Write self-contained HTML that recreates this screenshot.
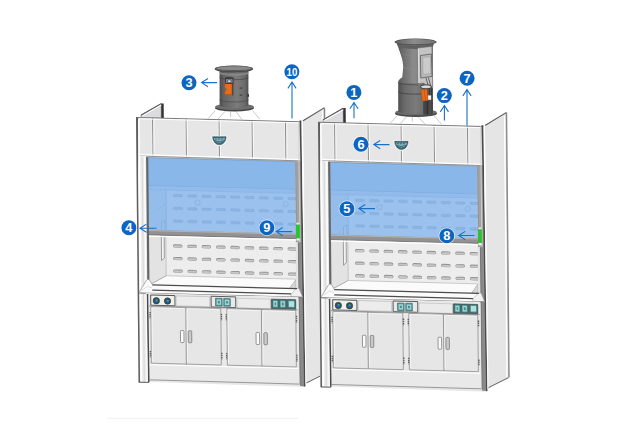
<!DOCTYPE html>
<html lang="en"><head><meta charset="utf-8"><title>Fume hood structure</title>
<style>
html,body{margin:0;padding:0;background:#fff}
body{width:640px;height:425px;overflow:hidden;font-family:"Liberation Sans",sans-serif}
svg{display:block}
svg text{font-family:"Liberation Sans",sans-serif;font-weight:bold;fill:#fff}
</style></head><body>
<svg width="640" height="425" viewBox="0 0 640 425">
<defs>
<linearGradient id="gduct" x1="0" x2="1" y1="0" y2="0">
<stop offset="0" stop-color="#4c4c4c"/><stop offset="0.15" stop-color="#636363"/><stop offset="0.6" stop-color="#7b7b7b"/><stop offset="0.88" stop-color="#6a6a6a"/><stop offset="1" stop-color="#4e4e4e"/>
</linearGradient>
<linearGradient id="gduct2" x1="0" x2="1" y1="0" y2="0">
<stop offset="0" stop-color="#505050"/><stop offset="0.2" stop-color="#6c6c6c"/><stop offset="0.5" stop-color="#7b7b7b"/><stop offset="0.8" stop-color="#6a6a6a"/><stop offset="1" stop-color="#505050"/>
</linearGradient>
<linearGradient id="gduct3" x1="0" x2="1" y1="0" y2="0">
<stop offset="0" stop-color="#555555"/><stop offset="0.2" stop-color="#707070"/><stop offset="0.45" stop-color="#8b8b8b"/><stop offset="1" stop-color="#787878"/>
</linearGradient>
<linearGradient id="gflange" x1="0" x2="1" y1="0" y2="0"><stop offset="0" stop-color="#626262"/><stop offset="0.45" stop-color="#8c8c8c"/><stop offset="1" stop-color="#747474"/></linearGradient>
</defs>
<rect width="640" height="425" fill="#ffffff"/>
<line x1="107" y1="418.3" x2="298" y2="418.3" stroke="#f1f1f1" stroke-width="1"/>

<g>
<line x1="215.3" y1="110.4" x2="208.2" y2="118.6" stroke="#a6a6a6" stroke-width="0.6"/>
<line x1="225.2" y1="111.2" x2="218" y2="119" stroke="#a6a6a6" stroke-width="0.6"/>
<line x1="230.6" y1="111.3" x2="230.6" y2="117" stroke="#a6a6a6" stroke-width="0.6"/>
<line x1="235.6" y1="111.2" x2="242.1" y2="119.7" stroke="#a6a6a6" stroke-width="0.6"/>
<line x1="252.5" y1="110.4" x2="259.8" y2="119.2" stroke="#a6a6a6" stroke-width="0.6"/>
<ellipse cx="234.5" cy="108" rx="19.5" ry="3.5" fill="#454545"/>
<ellipse cx="234.5" cy="106.8" rx="19.3" ry="3.2" fill="#6e6e6e"/>
<path d="M219.6 70.5 L219.6 105 A14.4 3 0 0 0 248.4 105 L248.4 70.5 Z" fill="url(#gduct)"/>
<path d="M219.3 77.5 A14.6 2.4 0 0 0 248.4 77.5" fill="none" stroke="#3f3f3f" stroke-width="0.6"/>
<path d="M219.6 99.8 A14.6 2.6 0 0 0 248.4 99.8" fill="none" stroke="#444" stroke-width="0.6"/>
<path d="M219.6 71.6 A14.4 2.2 0 0 0 248.4 71.6 L248.4 73.4 A14.4 2.2 0 0 1 219.6 73.4 Z" fill="#8f8f8f" fill-opacity="0.8"/>
<ellipse cx="233.9" cy="69" rx="19.3" ry="3.4" fill="#4c4c4c"/>
<ellipse cx="233.9" cy="68.4" rx="18.6" ry="2.7" fill="#6a6a6a"/>
<ellipse cx="233.9" cy="68.6" rx="16.6" ry="2.2" fill="#8a8a8a"/>
<path d="M217.3 68.8 A16.6 2.4 0 0 0 250.5 68.8 A16.6 1.2 0 0 1 217.3 68.8 Z" fill="#5a5a5a"/>
<rect x="224.7" y="83.5" width="7.2" height="11" rx="0.8" fill="#ee6a12" stroke="#9a4a14" stroke-width="0.4"/>
<rect x="224.2" y="88.2" width="2.2" height="2.6" fill="#5a6a7a"/>
<path d="M225.6 78.6 h7.4 v4.8 h-7.4z" fill="#8e8e8e" stroke="#2a2a2a" stroke-width="0.8"/>
<path d="M227.6 80 h3.4 v2.4 h-3.4z" fill="#e0e0e0" stroke="#222" stroke-width="0.5"/>
<path d="M225 78.2 q4.4 -2 8.6 0" fill="none" stroke="#222" stroke-width="0.7"/>
<line x1="232.8" y1="83.5" x2="232.8" y2="95.5" stroke="#2d2d2d" stroke-width="0.8"/>
<rect x="239.6" y="87.6" width="2.6" height="0.9" fill="#2f2f2f"/>
<rect x="239.6" y="94.6" width="2.6" height="0.9" fill="#2f2f2f"/>
<rect x="247.2" y="94.2" width="1.8" height="2.6" fill="#3a3a3a"/>
</g>
<g>
<line x1="397" y1="116" x2="390.4" y2="123" stroke="#a6a6a6" stroke-width="0.6"/>
<line x1="406.8" y1="116.4" x2="400.2" y2="123.6" stroke="#a6a6a6" stroke-width="0.6"/>
<line x1="412.3" y1="116.5" x2="412.3" y2="121.6" stroke="#a6a6a6" stroke-width="0.6"/>
<line x1="417.7" y1="116.4" x2="424.9" y2="124.1" stroke="#a6a6a6" stroke-width="0.6"/>
<line x1="434.2" y1="115.6" x2="441.5" y2="124.3" stroke="#a6a6a6" stroke-width="0.6"/>
<ellipse cx="416" cy="113.4" rx="21" ry="3.6" fill="#474747"/>
<ellipse cx="416" cy="112.2" rx="20.6" ry="3.1" fill="#6c6c6c"/>
<path d="M398.2 82.5 L398.2 111.2 A17.4 2.6 0 0 0 433 111.2 L433 82.5 Z" fill="url(#gduct2)"/>
<path d="M397 43.5 C399.5 52 403.2 59 403.2 67 L402.3 77 C400.5 79 398.2 79.5 398.2 83 L433 83 L433 43.5 Z" fill="url(#gduct3)"/>
<path d="M398.2 82.4 A17.4 2.4 0 0 0 418 84.8" fill="none" stroke="#3d3d3d" stroke-width="0.6"/>
<path d="M398.2 91.6 A17.4 2.4 0 0 0 421 94" fill="none" stroke="#3d3d3d" stroke-width="0.7"/>
<path d="M403.2 67 A15 2.2 0 0 0 418 69.2" fill="none" stroke="#8f8f8f" stroke-width="0.5"/><path d="M400.2 53 A16 2.2 0 0 0 418 55.4" fill="none" stroke="#8a8a8a" stroke-width="0.4"/>
<path d="M396.6 43 A19 3.4 0 0 0 434.2 43 L433 46.4 A17.6 3 0 0 1 398 46.4 Z" fill="#606060"/>
<ellipse cx="415.6" cy="42" rx="21" ry="3.5" fill="#4a4a4a"/>
<ellipse cx="415.6" cy="41.9" rx="20" ry="2.8" fill="url(#gflange)"/>
<path d="M396.4 42.8 A19.4 2.9 0 0 0 434.8 42.8 A19.4 1.7 0 0 1 396.4 42.8 Z" fill="#585858"/>
<path d="M417.8 48 L431.8 46.4 L432.8 88 L425 88.6 L424.2 83 L418.2 83.6 Z" fill="#c4c4c4" stroke="#6a6a6a" stroke-width="0.5"/>
<path d="M418.4 48.6 L418.8 83" fill="none" stroke="#f2f2f2" stroke-width="0.7"/>
<path d="M420.4 55.5 L431.4 54 L432 76.4 L420.8 78 Z" fill="#b9b9b9" stroke="#4a4a4a" stroke-width="0.7"/>
<path d="M422.8 57.6 L430.4 56.6 L430.8 73.4 L423.1 74.4 Z" fill="#cbcbcb" stroke="#8a8a8a" stroke-width="0.4"/>
<path d="M426 78 L429.4 90 M428.4 77.6 L431.6 89" fill="none" stroke="#3a3a3a" stroke-width="0.7"/>
<rect x="427.6" y="88.6" width="5.2" height="12" fill="#555555"/>
<path d="M429.4 88.6 V100.4 M431.4 88.6 V100.4" stroke="#2a2a2a" stroke-width="0.7"/>
<rect x="427.6" y="95.4" width="3.6" height="4.4" fill="#f4f4f4"/>
<ellipse cx="426" cy="86.8" rx="5.6" ry="2" fill="#d8d8d8" stroke="#2e2e2e" stroke-width="0.9"/>
<path d="M421 89.8 L427 89.2 L428 100.2 L422.4 101.2 Z" fill="#ee6a12" stroke="#9a4a14" stroke-width="0.4"/>
<path d="M424.4 89.8 L425.4 100.6" stroke="#b04c10" stroke-width="0.6"/>
<path d="M423.2 101.2 L432.8 100.4 L432.8 114.6 L423.2 114.8 Z" fill="#444444"/>
<line x1="427.4" y1="101" x2="427.4" y2="114.6" stroke="#222" stroke-width="0.7"/>
<line x1="430.2" y1="101" x2="430.2" y2="114.6" stroke="#5a5a5a" stroke-width="0.6"/>
</g>
<g transform="translate(-1.12,0) skewX(0.544)">
<polygon points="141,115.2 161.3,103.6 161.3,118.2 141,117.7" fill="#dcdcde" stroke="#8a8a8a" stroke-width="0.7" stroke-linejoin="round"/>
<polygon points="161.3,103.4 163.8,103.4 163.8,118.3 161.3,118.2" fill="#333333"/>
<line x1="142.4" y1="115.8" x2="161.3" y2="105" stroke="#ffffff" stroke-width="1"/>
<line x1="141" y1="115.2" x2="161.3" y2="103.6" stroke="#555555" stroke-width="1"/>
<polygon points="303,120.8 324.2,107.9 324.2,372.9 302.5,383.4" fill="#e5e5e6" stroke="#9a9a9a" stroke-width="0.7" stroke-linejoin="round"/>
<polygon points="324,107.8 325.3,107.8 325.3,372.3 324,372.9" fill="#8a8a8a"/>
<line x1="322.6" y1="111" x2="322.6" y2="372.5" stroke="#ffffff" stroke-width="1.3"/>
<line x1="303" y1="120.8" x2="324.2" y2="107.9" stroke="#5e5e5e" stroke-width="1"/>
<line x1="303.6" y1="383.2" x2="324.2" y2="372.9" stroke="#6a6a6a" stroke-width="0.9"/>
<polygon points="136,117.5 302.5,121.8 302.5,387 136,381.5" fill="#e7e7e8"/>
<g transform="translate(-1.3,0)">
<polygon points="148,157.31 295.5,161.15 295.5,240.15 148,236.31" fill="#eeeeee"/>
<polygon points="166,186.78 295.5,190.15 295.5,279.15 166,275.78" fill="#ededee"/>
<rect x="173.1" y="193.99" width="9.4" height="3" rx="1.5" fill="#cfcfcf" stroke="#bdbdbd" stroke-width="0.4" transform="rotate(1.5 177.8 195.49)"/>
<rect x="187.43" y="194.36" width="9.4" height="3" rx="1.5" fill="#cfcfcf" stroke="#bdbdbd" stroke-width="0.4" transform="rotate(1.5 192.13 195.86)"/>
<rect x="201.76" y="194.73" width="9.4" height="3" rx="1.5" fill="#cfcfcf" stroke="#bdbdbd" stroke-width="0.4" transform="rotate(1.5 206.46 196.23)"/>
<rect x="216.09" y="195.1" width="9.4" height="3" rx="1.5" fill="#cfcfcf" stroke="#bdbdbd" stroke-width="0.4" transform="rotate(1.5 220.79 196.6)"/>
<rect x="230.42" y="195.48" width="9.4" height="3" rx="1.5" fill="#cfcfcf" stroke="#bdbdbd" stroke-width="0.4" transform="rotate(1.5 235.12 196.98)"/>
<rect x="244.75" y="195.85" width="9.4" height="3" rx="1.5" fill="#cfcfcf" stroke="#bdbdbd" stroke-width="0.4" transform="rotate(1.5 249.45 197.35)"/>
<rect x="259.08" y="196.22" width="9.4" height="3" rx="1.5" fill="#cfcfcf" stroke="#bdbdbd" stroke-width="0.4" transform="rotate(1.5 263.78 197.72)"/>
<rect x="273.41" y="196.59" width="9.4" height="3" rx="1.5" fill="#cfcfcf" stroke="#bdbdbd" stroke-width="0.4" transform="rotate(1.5 278.11 198.09)"/>
<rect x="287.74" y="196.97" width="9.4" height="3" rx="1.5" fill="#cfcfcf" stroke="#bdbdbd" stroke-width="0.4" transform="rotate(1.5 292.44 198.47)"/>
<rect x="173.1" y="206.79" width="9.4" height="3" rx="1.5" fill="#cfcfcf" stroke="#bdbdbd" stroke-width="0.4" transform="rotate(1.5 177.8 208.29)"/>
<rect x="187.43" y="207.16" width="9.4" height="3" rx="1.5" fill="#cfcfcf" stroke="#bdbdbd" stroke-width="0.4" transform="rotate(1.5 192.13 208.66)"/>
<rect x="201.76" y="207.53" width="9.4" height="3" rx="1.5" fill="#cfcfcf" stroke="#bdbdbd" stroke-width="0.4" transform="rotate(1.5 206.46 209.03)"/>
<rect x="216.09" y="207.9" width="9.4" height="3" rx="1.5" fill="#cfcfcf" stroke="#bdbdbd" stroke-width="0.4" transform="rotate(1.5 220.79 209.4)"/>
<rect x="230.42" y="208.28" width="9.4" height="3" rx="1.5" fill="#cfcfcf" stroke="#bdbdbd" stroke-width="0.4" transform="rotate(1.5 235.12 209.78)"/>
<rect x="244.75" y="208.65" width="9.4" height="3" rx="1.5" fill="#cfcfcf" stroke="#bdbdbd" stroke-width="0.4" transform="rotate(1.5 249.45 210.15)"/>
<rect x="259.08" y="209.02" width="9.4" height="3" rx="1.5" fill="#cfcfcf" stroke="#bdbdbd" stroke-width="0.4" transform="rotate(1.5 263.78 210.52)"/>
<rect x="273.41" y="209.39" width="9.4" height="3" rx="1.5" fill="#cfcfcf" stroke="#bdbdbd" stroke-width="0.4" transform="rotate(1.5 278.11 210.89)"/>
<rect x="287.74" y="209.77" width="9.4" height="3" rx="1.5" fill="#cfcfcf" stroke="#bdbdbd" stroke-width="0.4" transform="rotate(1.5 292.44 211.27)"/>
<rect x="173.1" y="219.49" width="9.4" height="3" rx="1.5" fill="#cfcfcf" stroke="#bdbdbd" stroke-width="0.4" transform="rotate(1.5 177.8 220.99)"/>
<rect x="187.43" y="219.86" width="9.4" height="3" rx="1.5" fill="#cfcfcf" stroke="#bdbdbd" stroke-width="0.4" transform="rotate(1.5 192.13 221.36)"/>
<rect x="201.76" y="220.23" width="9.4" height="3" rx="1.5" fill="#cfcfcf" stroke="#bdbdbd" stroke-width="0.4" transform="rotate(1.5 206.46 221.73)"/>
<rect x="216.09" y="220.6" width="9.4" height="3" rx="1.5" fill="#cfcfcf" stroke="#bdbdbd" stroke-width="0.4" transform="rotate(1.5 220.79 222.1)"/>
<rect x="230.42" y="220.98" width="9.4" height="3" rx="1.5" fill="#cfcfcf" stroke="#bdbdbd" stroke-width="0.4" transform="rotate(1.5 235.12 222.48)"/>
<rect x="244.75" y="221.35" width="9.4" height="3" rx="1.5" fill="#cfcfcf" stroke="#bdbdbd" stroke-width="0.4" transform="rotate(1.5 249.45 222.85)"/>
<rect x="259.08" y="221.72" width="9.4" height="3" rx="1.5" fill="#cfcfcf" stroke="#bdbdbd" stroke-width="0.4" transform="rotate(1.5 263.78 223.22)"/>
<rect x="273.41" y="222.09" width="9.4" height="3" rx="1.5" fill="#cfcfcf" stroke="#bdbdbd" stroke-width="0.4" transform="rotate(1.5 278.11 223.59)"/>
<rect x="287.74" y="222.47" width="9.4" height="3" rx="1.5" fill="#cfcfcf" stroke="#bdbdbd" stroke-width="0.4" transform="rotate(1.5 292.44 223.97)"/>
<g transform="rotate(1.5 177.8 245.99)"><rect x="173" y="244.39" width="9.6" height="3.2" rx="1.6" fill="#8f8f8f"/><rect x="173.5" y="245.29" width="8.6" height="2" rx="1" fill="#c6c6c6"/></g>
<g transform="rotate(1.5 192.13 246.36)"><rect x="187.33" y="244.76" width="9.6" height="3.2" rx="1.6" fill="#8f8f8f"/><rect x="187.83" y="245.66" width="8.6" height="2" rx="1" fill="#c6c6c6"/></g>
<g transform="rotate(1.5 206.46 246.73)"><rect x="201.66" y="245.13" width="9.6" height="3.2" rx="1.6" fill="#8f8f8f"/><rect x="202.16" y="246.03" width="8.6" height="2" rx="1" fill="#c6c6c6"/></g>
<g transform="rotate(1.5 220.79 247.1)"><rect x="215.99" y="245.5" width="9.6" height="3.2" rx="1.6" fill="#8f8f8f"/><rect x="216.49" y="246.4" width="8.6" height="2" rx="1" fill="#c6c6c6"/></g>
<g transform="rotate(1.5 235.12 247.48)"><rect x="230.32" y="245.88" width="9.6" height="3.2" rx="1.6" fill="#8f8f8f"/><rect x="230.82" y="246.78" width="8.6" height="2" rx="1" fill="#c6c6c6"/></g>
<g transform="rotate(1.5 249.45 247.85)"><rect x="244.65" y="246.25" width="9.6" height="3.2" rx="1.6" fill="#8f8f8f"/><rect x="245.15" y="247.15" width="8.6" height="2" rx="1" fill="#c6c6c6"/></g>
<g transform="rotate(1.5 263.78 248.22)"><rect x="258.98" y="246.62" width="9.6" height="3.2" rx="1.6" fill="#8f8f8f"/><rect x="259.48" y="247.52" width="8.6" height="2" rx="1" fill="#c6c6c6"/></g>
<g transform="rotate(1.5 278.11 248.59)"><rect x="273.31" y="246.99" width="9.6" height="3.2" rx="1.6" fill="#8f8f8f"/><rect x="273.81" y="247.89" width="8.6" height="2" rx="1" fill="#c6c6c6"/></g>
<g transform="rotate(1.5 292.44 248.97)"><rect x="287.64" y="247.37" width="9.6" height="3.2" rx="1.6" fill="#8f8f8f"/><rect x="288.14" y="248.27" width="8.6" height="2" rx="1" fill="#c6c6c6"/></g>
<g transform="rotate(1.5 177.8 258.59)"><rect x="173" y="256.99" width="9.6" height="3.2" rx="1.6" fill="#8f8f8f"/><rect x="173.5" y="257.89" width="8.6" height="2" rx="1" fill="#c6c6c6"/></g>
<g transform="rotate(1.5 192.13 258.96)"><rect x="187.33" y="257.36" width="9.6" height="3.2" rx="1.6" fill="#8f8f8f"/><rect x="187.83" y="258.26" width="8.6" height="2" rx="1" fill="#c6c6c6"/></g>
<g transform="rotate(1.5 206.46 259.33)"><rect x="201.66" y="257.73" width="9.6" height="3.2" rx="1.6" fill="#8f8f8f"/><rect x="202.16" y="258.63" width="8.6" height="2" rx="1" fill="#c6c6c6"/></g>
<g transform="rotate(1.5 220.79 259.7)"><rect x="215.99" y="258.1" width="9.6" height="3.2" rx="1.6" fill="#8f8f8f"/><rect x="216.49" y="259" width="8.6" height="2" rx="1" fill="#c6c6c6"/></g>
<g transform="rotate(1.5 235.12 260.08)"><rect x="230.32" y="258.48" width="9.6" height="3.2" rx="1.6" fill="#8f8f8f"/><rect x="230.82" y="259.38" width="8.6" height="2" rx="1" fill="#c6c6c6"/></g>
<g transform="rotate(1.5 249.45 260.45)"><rect x="244.65" y="258.85" width="9.6" height="3.2" rx="1.6" fill="#8f8f8f"/><rect x="245.15" y="259.75" width="8.6" height="2" rx="1" fill="#c6c6c6"/></g>
<g transform="rotate(1.5 263.78 260.82)"><rect x="258.98" y="259.22" width="9.6" height="3.2" rx="1.6" fill="#8f8f8f"/><rect x="259.48" y="260.12" width="8.6" height="2" rx="1" fill="#c6c6c6"/></g>
<g transform="rotate(1.5 278.11 261.19)"><rect x="273.31" y="259.59" width="9.6" height="3.2" rx="1.6" fill="#8f8f8f"/><rect x="273.81" y="260.49" width="8.6" height="2" rx="1" fill="#c6c6c6"/></g>
<g transform="rotate(1.5 292.44 261.57)"><rect x="287.64" y="259.97" width="9.6" height="3.2" rx="1.6" fill="#8f8f8f"/><rect x="288.14" y="260.87" width="8.6" height="2" rx="1" fill="#c6c6c6"/></g>
<g transform="rotate(1.5 177.8 271.09)"><rect x="173" y="269.49" width="9.6" height="3.2" rx="1.6" fill="#8f8f8f"/><rect x="173.5" y="270.39" width="8.6" height="2" rx="1" fill="#c6c6c6"/></g>
<g transform="rotate(1.5 192.13 271.46)"><rect x="187.33" y="269.86" width="9.6" height="3.2" rx="1.6" fill="#8f8f8f"/><rect x="187.83" y="270.76" width="8.6" height="2" rx="1" fill="#c6c6c6"/></g>
<g transform="rotate(1.5 206.46 271.83)"><rect x="201.66" y="270.23" width="9.6" height="3.2" rx="1.6" fill="#8f8f8f"/><rect x="202.16" y="271.13" width="8.6" height="2" rx="1" fill="#c6c6c6"/></g>
<g transform="rotate(1.5 220.79 272.2)"><rect x="215.99" y="270.6" width="9.6" height="3.2" rx="1.6" fill="#8f8f8f"/><rect x="216.49" y="271.5" width="8.6" height="2" rx="1" fill="#c6c6c6"/></g>
<g transform="rotate(1.5 235.12 272.58)"><rect x="230.32" y="270.98" width="9.6" height="3.2" rx="1.6" fill="#8f8f8f"/><rect x="230.82" y="271.88" width="8.6" height="2" rx="1" fill="#c6c6c6"/></g>
<g transform="rotate(1.5 249.45 272.95)"><rect x="244.65" y="271.35" width="9.6" height="3.2" rx="1.6" fill="#8f8f8f"/><rect x="245.15" y="272.25" width="8.6" height="2" rx="1" fill="#c6c6c6"/></g>
<g transform="rotate(1.5 263.78 273.32)"><rect x="258.98" y="271.72" width="9.6" height="3.2" rx="1.6" fill="#8f8f8f"/><rect x="259.48" y="272.62" width="8.6" height="2" rx="1" fill="#c6c6c6"/></g>
<g transform="rotate(1.5 278.11 273.69)"><rect x="273.31" y="272.09" width="9.6" height="3.2" rx="1.6" fill="#8f8f8f"/><rect x="273.81" y="272.99" width="8.6" height="2" rx="1" fill="#c6c6c6"/></g>
<g transform="rotate(1.5 292.44 274.07)"><rect x="287.64" y="272.47" width="9.6" height="3.2" rx="1.6" fill="#8f8f8f"/><rect x="288.14" y="273.37" width="8.6" height="2" rx="1" fill="#c6c6c6"/></g>
<circle cx="197.5" cy="202.5" r="2.6" fill="none" stroke="#b0b0b0" stroke-width="0.6"/>
<circle cx="285" cy="206" r="2.6" fill="none" stroke="#b0b0b0" stroke-width="0.6"/>
<polygon points="152,182.92 295.5,186.65 295.5,192.65 152,188.92" fill="#d9d9db"/>
<polygon points="152,186.62 295.5,190.35 295.5,191.35 152,187.62" fill="#f8f8f8"/>
<polygon points="148,159 166,186 166,275.78 148,285.5" fill="#e3e3e4"/>
<line x1="166" y1="186" x2="166" y2="275.78" stroke="#b5b5b5" stroke-width="0.7"/>
<polygon points="161.5,221 164.3,220.5 164.3,258 161.5,260.5" fill="#f4f4f4" stroke="#7a7a7a" stroke-width="0.7" stroke-linejoin="round"/>
<polygon points="166,275.78 295.5,279.15 295.5,288.65 148,285.11" fill="#fbfbfb"/>
<line x1="166" y1="275.78" x2="295.5" y2="279.15" stroke="#b8b8b8" stroke-width="0.7"/>
<line x1="166" y1="275.78" x2="148" y2="285.5" stroke="#9a9a9a" stroke-width="0.8"/>
<polygon points="295.5,279.65 289,288.58 295.5,288.75" fill="#d5d5d5" stroke="#9a9a9a" stroke-width="0.5" stroke-linejoin="round"/>
</g>
<g transform="translate(-0.7,0)">
<polygon points="148,157.61 295.5,161.45 295.5,190.35 148,186.51" fill="#8ab7e9"/>
<polygon points="148,185.71 295.5,189.55 295.5,234.35 148,230.51" fill="#9bc2ee"/>
<polygon points="148,185.71 166,186.18 166,230.98 148,230.51" fill="#94bdeb"/>
<polygon points="148,184.91 295.5,188.75 295.5,189.75 148,185.91" fill="#7fafe4"/>
<polygon points="148,185.91 295.5,189.75 295.5,193.35 148,189.51" fill="#92bbeb"/>
<line x1="148" y1="189.61" x2="295.5" y2="193.45" stroke="#84b0e0" stroke-width="0.6"/>
<line x1="166" y1="189.18" x2="166" y2="230.78" stroke="#82aede" stroke-width="0.7"/>
<line x1="148.4" y1="214.6" x2="166" y2="204" stroke="#86b1e0" stroke-width="0.5"/>
<polygon points="161.2,222 164.6,220.4 164.6,231 161.2,231" fill="#98c0ed" stroke="#7aa4d4" stroke-width="0.6" stroke-linejoin="round"/>
<rect x="173.1" y="194.49" width="9.4" height="2.3" rx="1.15" fill="#8cb5e4" stroke="#7aa5d6" stroke-width="0.4" transform="rotate(1.5 177.8 195.79)"/>
<rect x="187.43" y="194.86" width="9.4" height="2.3" rx="1.15" fill="#8cb5e4" stroke="#7aa5d6" stroke-width="0.4" transform="rotate(1.5 192.13 196.16)"/>
<rect x="201.76" y="195.23" width="9.4" height="2.3" rx="1.15" fill="#8cb5e4" stroke="#7aa5d6" stroke-width="0.4" transform="rotate(1.5 206.46 196.53)"/>
<rect x="216.09" y="195.6" width="9.4" height="2.3" rx="1.15" fill="#8cb5e4" stroke="#7aa5d6" stroke-width="0.4" transform="rotate(1.5 220.79 196.9)"/>
<rect x="230.42" y="195.98" width="9.4" height="2.3" rx="1.15" fill="#8cb5e4" stroke="#7aa5d6" stroke-width="0.4" transform="rotate(1.5 235.12 197.28)"/>
<rect x="244.75" y="196.35" width="9.4" height="2.3" rx="1.15" fill="#8cb5e4" stroke="#7aa5d6" stroke-width="0.4" transform="rotate(1.5 249.45 197.65)"/>
<rect x="259.08" y="196.72" width="9.4" height="2.3" rx="1.15" fill="#8cb5e4" stroke="#7aa5d6" stroke-width="0.4" transform="rotate(1.5 263.78 198.02)"/>
<rect x="273.41" y="197.09" width="9.4" height="2.3" rx="1.15" fill="#8cb5e4" stroke="#7aa5d6" stroke-width="0.4" transform="rotate(1.5 278.11 198.39)"/>
<rect x="287.74" y="197.47" width="9.4" height="2.3" rx="1.15" fill="#8cb5e4" stroke="#7aa5d6" stroke-width="0.4" transform="rotate(1.5 292.44 198.77)"/>
<rect x="173.1" y="207.39" width="9.4" height="2.3" rx="1.15" fill="#8cb5e4" stroke="#7aa5d6" stroke-width="0.4" transform="rotate(1.5 177.8 208.69)"/>
<rect x="187.43" y="207.76" width="9.4" height="2.3" rx="1.15" fill="#8cb5e4" stroke="#7aa5d6" stroke-width="0.4" transform="rotate(1.5 192.13 209.06)"/>
<rect x="201.76" y="208.13" width="9.4" height="2.3" rx="1.15" fill="#8cb5e4" stroke="#7aa5d6" stroke-width="0.4" transform="rotate(1.5 206.46 209.43)"/>
<rect x="216.09" y="208.5" width="9.4" height="2.3" rx="1.15" fill="#8cb5e4" stroke="#7aa5d6" stroke-width="0.4" transform="rotate(1.5 220.79 209.8)"/>
<rect x="230.42" y="208.88" width="9.4" height="2.3" rx="1.15" fill="#8cb5e4" stroke="#7aa5d6" stroke-width="0.4" transform="rotate(1.5 235.12 210.18)"/>
<rect x="244.75" y="209.25" width="9.4" height="2.3" rx="1.15" fill="#8cb5e4" stroke="#7aa5d6" stroke-width="0.4" transform="rotate(1.5 249.45 210.55)"/>
<rect x="259.08" y="209.62" width="9.4" height="2.3" rx="1.15" fill="#8cb5e4" stroke="#7aa5d6" stroke-width="0.4" transform="rotate(1.5 263.78 210.92)"/>
<rect x="273.41" y="209.99" width="9.4" height="2.3" rx="1.15" fill="#8cb5e4" stroke="#7aa5d6" stroke-width="0.4" transform="rotate(1.5 278.11 211.29)"/>
<rect x="287.74" y="210.37" width="9.4" height="2.3" rx="1.15" fill="#8cb5e4" stroke="#7aa5d6" stroke-width="0.4" transform="rotate(1.5 292.44 211.67)"/>
<rect x="173.1" y="220.09" width="9.4" height="2.3" rx="1.15" fill="#8cb5e4" stroke="#7aa5d6" stroke-width="0.4" transform="rotate(1.5 177.8 221.39)"/>
<rect x="187.43" y="220.46" width="9.4" height="2.3" rx="1.15" fill="#8cb5e4" stroke="#7aa5d6" stroke-width="0.4" transform="rotate(1.5 192.13 221.76)"/>
<rect x="201.76" y="220.83" width="9.4" height="2.3" rx="1.15" fill="#8cb5e4" stroke="#7aa5d6" stroke-width="0.4" transform="rotate(1.5 206.46 222.13)"/>
<rect x="216.09" y="221.2" width="9.4" height="2.3" rx="1.15" fill="#8cb5e4" stroke="#7aa5d6" stroke-width="0.4" transform="rotate(1.5 220.79 222.5)"/>
<rect x="230.42" y="221.58" width="9.4" height="2.3" rx="1.15" fill="#8cb5e4" stroke="#7aa5d6" stroke-width="0.4" transform="rotate(1.5 235.12 222.88)"/>
<rect x="244.75" y="221.95" width="9.4" height="2.3" rx="1.15" fill="#8cb5e4" stroke="#7aa5d6" stroke-width="0.4" transform="rotate(1.5 249.45 223.25)"/>
<rect x="259.08" y="222.32" width="9.4" height="2.3" rx="1.15" fill="#8cb5e4" stroke="#7aa5d6" stroke-width="0.4" transform="rotate(1.5 263.78 223.62)"/>
<rect x="273.41" y="222.69" width="9.4" height="2.3" rx="1.15" fill="#8cb5e4" stroke="#7aa5d6" stroke-width="0.4" transform="rotate(1.5 278.11 223.99)"/>
<rect x="287.74" y="223.07" width="9.4" height="2.3" rx="1.15" fill="#8cb5e4" stroke="#7aa5d6" stroke-width="0.4" transform="rotate(1.5 292.44 224.37)"/>
<circle cx="197.5" cy="202.5" r="2.6" fill="none" stroke="#7fa9d9" stroke-width="0.6"/>
<circle cx="285.6" cy="204.2" r="2.6" fill="none" stroke="#7fa9d9" stroke-width="0.6"/>
<line x1="148" y1="157.61" x2="295.5" y2="161.45" stroke="#6f8fb0" stroke-width="0.7"/>
</g>
<g transform="translate(-1.1,0)">
<polygon points="146,229.86 296,233.76 296,238.56 146,234.66" fill="#929292"/>
<line x1="146" y1="230.46" x2="296" y2="234.36" stroke="#b4b4b4" stroke-width="1"/>
<line x1="146" y1="234.76" x2="296" y2="238.66" stroke="#666666" stroke-width="0.8"/>
<line x1="147" y1="236.09" x2="296" y2="239.96" stroke="#ffffff" stroke-width="1.2"/>
</g>
<polygon points="136,117.5 302.5,121.83 302.5,161 136,155.9" fill="#e6e6e7"/>
<line x1="152.6" y1="117.93" x2="152.6" y2="156.41" stroke="#838383" stroke-width="1"/>
<line x1="151.5" y1="118.93" x2="151.5" y2="155.61" stroke="#f0f0f0" stroke-width="0.7"/>
<line x1="153.8" y1="118.93" x2="153.8" y2="155.61" stroke="#fbfbfb" stroke-width="0.9"/>
<line x1="186" y1="118.8" x2="186" y2="157.44" stroke="#838383" stroke-width="1"/>
<line x1="184.9" y1="119.8" x2="184.9" y2="156.63" stroke="#f0f0f0" stroke-width="0.7"/>
<line x1="187.2" y1="119.8" x2="187.2" y2="156.63" stroke="#fbfbfb" stroke-width="0.9"/>
<line x1="219" y1="119.66" x2="219" y2="158.45" stroke="#838383" stroke-width="1"/>
<line x1="217.9" y1="120.66" x2="217.9" y2="157.65" stroke="#f0f0f0" stroke-width="0.7"/>
<line x1="220.2" y1="120.66" x2="220.2" y2="157.65" stroke="#fbfbfb" stroke-width="0.9"/>
<line x1="252" y1="120.52" x2="252" y2="159.46" stroke="#838383" stroke-width="1"/>
<line x1="250.9" y1="121.52" x2="250.9" y2="158.66" stroke="#f0f0f0" stroke-width="0.7"/>
<line x1="253.2" y1="121.52" x2="253.2" y2="158.66" stroke="#fbfbfb" stroke-width="0.9"/>
<line x1="285.5" y1="121.39" x2="285.5" y2="160.49" stroke="#838383" stroke-width="1"/>
<line x1="284.4" y1="122.39" x2="284.4" y2="159.69" stroke="#f0f0f0" stroke-width="0.7"/>
<line x1="286.7" y1="122.39" x2="286.7" y2="159.69" stroke="#fbfbfb" stroke-width="0.9"/>
<line x1="136" y1="117.5" x2="302.5" y2="121.83" stroke="#6e6e6e" stroke-width="0.9"/>
<line x1="138" y1="118.75" x2="300" y2="122.96" stroke="#ffffff" stroke-width="1"/>
<line x1="138" y1="154.7" x2="300" y2="159.6" stroke="#ffffff" stroke-width="1.3"/>
<line x1="138" y1="156" x2="300" y2="160.9" stroke="#8a8a8a" stroke-width="0.9"/>
<path d="M212 136.56 h14.4 a7.2 8.6 0 0 1 -14.4 0z" fill="#ffffff" stroke="#ffffff" stroke-width="1.6"/>
<path d="M212.4 136.66 h13.6 a6.8 8.2 0 0 1 -13.6 0z" fill="#3f6b78" stroke="#2b4750" stroke-width="0.5"/>
<path d="M213.7 137.96 h11 a5.5 4.8 0 0 1 -11 0z" fill="#7fb0bd"/>
<path d="M214.7 138.96 h9" fill="none" stroke="#2f5560" stroke-width="0.8" stroke-dasharray="2 1"/>
<path d="M214.7 140.76 q4.5 2.2 9 0" fill="none" stroke="#335a66" stroke-width="0.8"/>
<polygon points="136,155.8 146,156 146,382.6 136,382.4" fill="#ededee"/>
<polygon points="136,117.5 138.3,117.5 138,150 137.5,175 137.5,382.6 136,382.2" fill="#5e5e5e"/>
<line x1="138.8" y1="119" x2="138.8" y2="382" stroke="#ffffff" stroke-width="1.6"/>
<line x1="141.8" y1="157" x2="141.8" y2="382" stroke="#d2d2d2" stroke-width="0.8"/>
<line x1="144.2" y1="157" x2="144.2" y2="281" stroke="#ffffff" stroke-width="1.2"/>
<polygon points="145.7,157 147.9,157.2 147.9,280 145.7,280.4" fill="#666666"/>
<polygon points="136,381.6 146.6,382 146.6,383 136.4,382.8" fill="#6a6a6a"/>
<polygon points="294.8,161.15 301.3,161.33 301.4,386.4 297.6,385.9 297.4,290 297,242.5 295.2,242.5" fill="#a3a2a1"/>
<line x1="295.3" y1="161.66" x2="295.3" y2="242" stroke="#8d8d8d" stroke-width="0.8"/>
<polygon points="294.6,242.6 297,242.6 297.4,290 294.6,290" fill="#e4e4e4"/>
<polygon points="297,242.6 300,242.6 301,386 297.6,385.9" fill="#8a8a8a"/>
<line x1="297.2" y1="243" x2="297.6" y2="385" stroke="#6e6e6e" stroke-width="0.8"/>
<line x1="298.6" y1="121.5" x2="298.7" y2="242" stroke="#cfcfcf" stroke-width="0.9"/>
<polygon points="299.5,120.5 301.6,120.5 301.5,157 302.9,386.6 301.3,386.4 299.9,157" fill="#4a4a4a"/>
<polygon points="301.4,120.6 303.4,120.9 303.9,383.4 302.9,384.5" fill="#ffffff"/>
<rect x="295.2" y="224.6" width="3.4" height="13.6" fill="#0cd80c" stroke="#6e8f6e" stroke-width="0.5"/>
<rect x="295.3" y="222.8" width="3.2" height="1.8" fill="#e8e8e8"/>
<rect x="295.3" y="238.4" width="3.2" height="2.2" fill="#f2f2f2"/>
<g transform="translate(-1.6,0)">
<polygon points="138.9,292.6 146.6,279.8 149.6,279.8 152.4,284.3 297,288.49 302.6,297.32 138.9,292.9" fill="#fbfbfb"/>
<polygon points="291,294.03 296.6,288.2 299,288.4 302.6,297.52 291,297.03" fill="#f1f1f1" stroke="#9a9a9a" stroke-width="0.5" stroke-linejoin="round"/>
<line x1="152.2" y1="284.92" x2="297" y2="288.69" stroke="#4c4c4c" stroke-width="1.25"/>
<line x1="152.2" y1="290.22" x2="291" y2="293.83" stroke="#4c4c4c" stroke-width="1.2"/>
<line x1="139" y1="293.08" x2="302.6" y2="297.33" stroke="#6a6a6a" stroke-width="1"/>
<line x1="139" y1="292.4" x2="146.8" y2="279.8" stroke="#8a8a8a" stroke-width="0.7"/>
<line x1="149.4" y1="279.8" x2="152.2" y2="284.4" stroke="#8a8a8a" stroke-width="0.7"/>
<line x1="141.5" y1="290.6" x2="147.6" y2="286.2" stroke="#c4c4c4" stroke-width="0.6"/>
<line x1="147.6" y1="286.2" x2="152" y2="288" stroke="#c4c4c4" stroke-width="0.6"/>
</g>
<g transform="translate(-2,0)">
<polygon points="146,293 298.5,297 298.5,384.2 146,379.8" fill="#e9e9ea"/>
<line x1="147.8" y1="294" x2="148.3" y2="382" stroke="#4a4a4a" stroke-width="1.5"/>
<line x1="146.3" y1="295" x2="146.6" y2="381" stroke="#ffffff" stroke-width="1"/>
<polygon points="151,294.99 175.2,295.62 175.2,305.82 151,305.19" fill="#f1f1f1" stroke="#444444" stroke-width="0.9"/>
<circle cx="156.6" cy="300.74" r="3.2" fill="#2f5a44" stroke="#24382e" stroke-width="0.6"/>
<circle cx="156.6" cy="300.94" r="1.7" fill="#2b55e2"/>
<circle cx="156.9" cy="300.24" r="0.9" fill="#3fae6a"/>
<circle cx="167.8" cy="301.03" r="3.2" fill="#2f5a44" stroke="#24382e" stroke-width="0.6"/>
<circle cx="167.8" cy="301.23" r="1.7" fill="#2b55e2"/>
<circle cx="168.1" cy="300.53" r="0.9" fill="#3fae6a"/>
<polygon points="176.4,295.85 210,296.72 210,306.72 176.4,305.85" fill="#ececec" stroke="#b0b0b0" stroke-width="0.6"/>
<polygon points="211.4,296.26 236,296.9 236,307.6 211.4,306.96" fill="#e9e9e9" stroke="#4a4a4a" stroke-width="0.9"/>
<polygon points="215.8,298.27 222.4,298.45 222.4,306.05 215.8,305.87" fill="#559a9a" stroke="#2d5c5c" stroke-width="0.6"/>
<polygon points="216.9,299.5 221.3,299.62 221.3,304.82 216.9,304.7" fill="#9fd4d4"/>
<polygon points="218.1,300.93 220.1,300.99 220.1,303.39 218.1,303.33" fill="#4a8c8c"/>
<polygon points="224,298.49 230.6,298.66 230.6,306.26 224,306.09" fill="#559a9a" stroke="#2d5c5c" stroke-width="0.6"/>
<polygon points="225.1,299.72 229.5,299.83 229.5,305.03 225.1,304.92" fill="#9fd4d4"/>
<polygon points="226.3,301.15 228.3,301.2 228.3,303.6 226.3,303.55" fill="#4a8c8c"/>
<polygon points="237.3,298.23 270.6,299.1 270.6,308.7 237.3,307.83" fill="#ebebeb" stroke="#b8b8b8" stroke-width="0.6"/>
<polygon points="271.6,299.13 296,299.76 296,309.56 271.6,308.93" fill="#5b6468" stroke="#3a3a3a" stroke-width="0.6"/>
<polygon points="272.6,299.75 278.6,299.91 278.6,307.91 272.6,307.75" fill="#559a9a" stroke="#2d5c5c" stroke-width="0.6"/>
<polygon points="273.7,300.98 277.5,301.08 277.5,306.68 273.7,306.58" fill="#9fd4d4"/>
<polygon points="274.9,302.41 276.3,302.45 276.3,305.25 274.9,305.21" fill="#4a8c8c"/>
<polygon points="279.8,299.94 286.2,300.11 286.2,308.11 279.8,307.94" fill="#559a9a" stroke="#2d5c5c" stroke-width="0.6"/>
<polygon points="280.9,301.17 285.1,301.28 285.1,306.88 280.9,306.77" fill="#9fd4d4"/>
<polygon points="282.1,302.6 283.9,302.65 283.9,305.45 282.1,305.4" fill="#4a8c8c"/>
<polygon points="288,299.95 295.4,300.14 295.4,308.14 288,307.95" fill="#559a9a" stroke="#2d5c5c" stroke-width="0.6"/>
<polygon points="289.1,301.18 294.3,301.32 294.3,306.92 289.1,306.78" fill="#b4e0e0"/>
<line x1="149" y1="305.94" x2="298" y2="309.81" stroke="#8a8a8a" stroke-width="0.8"/>
<polygon points="151,306.69 221,308.51 221,365.01 151,363.19" fill="#e6e6e7" stroke="#8e8e8e" stroke-width="0.8"/>
<line x1="186" y1="307.6" x2="186" y2="364.1" stroke="#8e8e8e" stroke-width="0.9"/>
<line x1="152.3" y1="307.99" x2="152.3" y2="361.39" stroke="#f6f6f6" stroke-width="0.8"/>
<line x1="152.4" y1="307.83" x2="185" y2="308.67" stroke="#f6f6f6" stroke-width="0.8"/>
<line x1="187.3" y1="308.9" x2="187.3" y2="362.3" stroke="#f6f6f6" stroke-width="0.8"/>
<line x1="187.4" y1="308.74" x2="220" y2="309.58" stroke="#f6f6f6" stroke-width="0.8"/>
<rect x="180.4" y="330.55" width="3.5" height="12" rx="0.8" fill="#fbfbfb" stroke="#6e6e6e" stroke-width="0.7"/>
<rect x="188.2" y="330.76" width="3.5" height="12" rx="0.8" fill="#c9c9c9" stroke="#6e6e6e" stroke-width="0.7"/>
<polygon points="227,308.67 296,310.46 296,366.96 227,365.17" fill="#e6e6e7" stroke="#8e8e8e" stroke-width="0.8"/>
<line x1="261.6" y1="309.57" x2="261.6" y2="366.07" stroke="#8e8e8e" stroke-width="0.9"/>
<line x1="228.3" y1="309.97" x2="228.3" y2="363.37" stroke="#f6f6f6" stroke-width="0.8"/>
<line x1="228.4" y1="309.8" x2="260.6" y2="310.64" stroke="#f6f6f6" stroke-width="0.8"/>
<line x1="262.9" y1="310.87" x2="262.9" y2="364.27" stroke="#f6f6f6" stroke-width="0.8"/>
<line x1="263" y1="310.7" x2="295" y2="311.53" stroke="#f6f6f6" stroke-width="0.8"/>
<rect x="256" y="332.52" width="3.5" height="12" rx="0.8" fill="#fbfbfb" stroke="#6e6e6e" stroke-width="0.7"/>
<rect x="263.8" y="332.72" width="3.5" height="12" rx="0.8" fill="#c9c9c9" stroke="#6e6e6e" stroke-width="0.7"/>
<line x1="150.2" y1="311.97" x2="150.2" y2="318.57" stroke="#5e5e5e" stroke-width="1.4" stroke-dasharray="1.4 0.7"/>
<line x1="150.2" y1="350.97" x2="150.2" y2="357.57" stroke="#5e5e5e" stroke-width="1.4" stroke-dasharray="1.4 0.7"/>
<line x1="221.6" y1="313.83" x2="221.6" y2="320.43" stroke="#5e5e5e" stroke-width="1.4" stroke-dasharray="1.4 0.7"/>
<line x1="221.6" y1="352.83" x2="221.6" y2="359.43" stroke="#5e5e5e" stroke-width="1.4" stroke-dasharray="1.4 0.7"/>
<line x1="226.4" y1="313.95" x2="226.4" y2="320.55" stroke="#5e5e5e" stroke-width="1.4" stroke-dasharray="1.4 0.7"/>
<line x1="226.4" y1="352.95" x2="226.4" y2="359.55" stroke="#5e5e5e" stroke-width="1.4" stroke-dasharray="1.4 0.7"/>
<line x1="296.6" y1="315.78" x2="296.6" y2="322.38" stroke="#5e5e5e" stroke-width="1.4" stroke-dasharray="1.4 0.7"/>
<line x1="296.6" y1="354.78" x2="296.6" y2="361.38" stroke="#5e5e5e" stroke-width="1.4" stroke-dasharray="1.4 0.7"/>
<line x1="149" y1="379.8" x2="298.5" y2="384.1" stroke="#8f8f8f" stroke-width="0.9"/>
<line x1="149.5" y1="364.65" x2="298" y2="368.51" stroke="#ffffff" stroke-width="1"/>
</g>
</g>
<g transform="translate(180.88,4.7) skewX(0.544)">
<polygon points="141,115.2 161.3,103.6 161.3,118.2 141,117.7" fill="#dcdcde" stroke="#8a8a8a" stroke-width="0.7" stroke-linejoin="round"/>
<polygon points="161.3,103.4 163.8,103.4 163.8,118.3 161.3,118.2" fill="#333333"/>
<line x1="142.4" y1="115.8" x2="161.3" y2="105" stroke="#ffffff" stroke-width="1"/>
<line x1="141" y1="115.2" x2="161.3" y2="103.6" stroke="#555555" stroke-width="1"/>
<polygon points="303,120.8 324.2,107.9 324.2,372.9 302.5,383.4" fill="#e5e5e6" stroke="#9a9a9a" stroke-width="0.7" stroke-linejoin="round"/>
<polygon points="324,107.8 325.3,107.8 325.3,372.3 324,372.9" fill="#8a8a8a"/>
<line x1="322.6" y1="111" x2="322.6" y2="372.5" stroke="#ffffff" stroke-width="1.3"/>
<line x1="303" y1="120.8" x2="324.2" y2="107.9" stroke="#5e5e5e" stroke-width="1"/>
<line x1="303.6" y1="383.2" x2="324.2" y2="372.9" stroke="#6a6a6a" stroke-width="0.9"/>
<polygon points="136,117.5 302.5,121.8 302.5,387 136,381.5" fill="#e7e7e8"/>
<g transform="translate(-1.3,0)">
<polygon points="148,157.31 295.5,161.15 295.5,240.15 148,236.31" fill="#eeeeee"/>
<polygon points="166,186.78 295.5,190.15 295.5,279.15 166,275.78" fill="#ededee"/>
<rect x="173.1" y="193.99" width="9.4" height="3" rx="1.5" fill="#cfcfcf" stroke="#bdbdbd" stroke-width="0.4" transform="rotate(1.5 177.8 195.49)"/>
<rect x="187.43" y="194.36" width="9.4" height="3" rx="1.5" fill="#cfcfcf" stroke="#bdbdbd" stroke-width="0.4" transform="rotate(1.5 192.13 195.86)"/>
<rect x="201.76" y="194.73" width="9.4" height="3" rx="1.5" fill="#cfcfcf" stroke="#bdbdbd" stroke-width="0.4" transform="rotate(1.5 206.46 196.23)"/>
<rect x="216.09" y="195.1" width="9.4" height="3" rx="1.5" fill="#cfcfcf" stroke="#bdbdbd" stroke-width="0.4" transform="rotate(1.5 220.79 196.6)"/>
<rect x="230.42" y="195.48" width="9.4" height="3" rx="1.5" fill="#cfcfcf" stroke="#bdbdbd" stroke-width="0.4" transform="rotate(1.5 235.12 196.98)"/>
<rect x="244.75" y="195.85" width="9.4" height="3" rx="1.5" fill="#cfcfcf" stroke="#bdbdbd" stroke-width="0.4" transform="rotate(1.5 249.45 197.35)"/>
<rect x="259.08" y="196.22" width="9.4" height="3" rx="1.5" fill="#cfcfcf" stroke="#bdbdbd" stroke-width="0.4" transform="rotate(1.5 263.78 197.72)"/>
<rect x="273.41" y="196.59" width="9.4" height="3" rx="1.5" fill="#cfcfcf" stroke="#bdbdbd" stroke-width="0.4" transform="rotate(1.5 278.11 198.09)"/>
<rect x="287.74" y="196.97" width="9.4" height="3" rx="1.5" fill="#cfcfcf" stroke="#bdbdbd" stroke-width="0.4" transform="rotate(1.5 292.44 198.47)"/>
<rect x="173.1" y="206.79" width="9.4" height="3" rx="1.5" fill="#cfcfcf" stroke="#bdbdbd" stroke-width="0.4" transform="rotate(1.5 177.8 208.29)"/>
<rect x="187.43" y="207.16" width="9.4" height="3" rx="1.5" fill="#cfcfcf" stroke="#bdbdbd" stroke-width="0.4" transform="rotate(1.5 192.13 208.66)"/>
<rect x="201.76" y="207.53" width="9.4" height="3" rx="1.5" fill="#cfcfcf" stroke="#bdbdbd" stroke-width="0.4" transform="rotate(1.5 206.46 209.03)"/>
<rect x="216.09" y="207.9" width="9.4" height="3" rx="1.5" fill="#cfcfcf" stroke="#bdbdbd" stroke-width="0.4" transform="rotate(1.5 220.79 209.4)"/>
<rect x="230.42" y="208.28" width="9.4" height="3" rx="1.5" fill="#cfcfcf" stroke="#bdbdbd" stroke-width="0.4" transform="rotate(1.5 235.12 209.78)"/>
<rect x="244.75" y="208.65" width="9.4" height="3" rx="1.5" fill="#cfcfcf" stroke="#bdbdbd" stroke-width="0.4" transform="rotate(1.5 249.45 210.15)"/>
<rect x="259.08" y="209.02" width="9.4" height="3" rx="1.5" fill="#cfcfcf" stroke="#bdbdbd" stroke-width="0.4" transform="rotate(1.5 263.78 210.52)"/>
<rect x="273.41" y="209.39" width="9.4" height="3" rx="1.5" fill="#cfcfcf" stroke="#bdbdbd" stroke-width="0.4" transform="rotate(1.5 278.11 210.89)"/>
<rect x="287.74" y="209.77" width="9.4" height="3" rx="1.5" fill="#cfcfcf" stroke="#bdbdbd" stroke-width="0.4" transform="rotate(1.5 292.44 211.27)"/>
<rect x="173.1" y="219.49" width="9.4" height="3" rx="1.5" fill="#cfcfcf" stroke="#bdbdbd" stroke-width="0.4" transform="rotate(1.5 177.8 220.99)"/>
<rect x="187.43" y="219.86" width="9.4" height="3" rx="1.5" fill="#cfcfcf" stroke="#bdbdbd" stroke-width="0.4" transform="rotate(1.5 192.13 221.36)"/>
<rect x="201.76" y="220.23" width="9.4" height="3" rx="1.5" fill="#cfcfcf" stroke="#bdbdbd" stroke-width="0.4" transform="rotate(1.5 206.46 221.73)"/>
<rect x="216.09" y="220.6" width="9.4" height="3" rx="1.5" fill="#cfcfcf" stroke="#bdbdbd" stroke-width="0.4" transform="rotate(1.5 220.79 222.1)"/>
<rect x="230.42" y="220.98" width="9.4" height="3" rx="1.5" fill="#cfcfcf" stroke="#bdbdbd" stroke-width="0.4" transform="rotate(1.5 235.12 222.48)"/>
<rect x="244.75" y="221.35" width="9.4" height="3" rx="1.5" fill="#cfcfcf" stroke="#bdbdbd" stroke-width="0.4" transform="rotate(1.5 249.45 222.85)"/>
<rect x="259.08" y="221.72" width="9.4" height="3" rx="1.5" fill="#cfcfcf" stroke="#bdbdbd" stroke-width="0.4" transform="rotate(1.5 263.78 223.22)"/>
<rect x="273.41" y="222.09" width="9.4" height="3" rx="1.5" fill="#cfcfcf" stroke="#bdbdbd" stroke-width="0.4" transform="rotate(1.5 278.11 223.59)"/>
<rect x="287.74" y="222.47" width="9.4" height="3" rx="1.5" fill="#cfcfcf" stroke="#bdbdbd" stroke-width="0.4" transform="rotate(1.5 292.44 223.97)"/>
<g transform="rotate(1.5 177.8 245.99)"><rect x="173" y="244.39" width="9.6" height="3.2" rx="1.6" fill="#8f8f8f"/><rect x="173.5" y="245.29" width="8.6" height="2" rx="1" fill="#c6c6c6"/></g>
<g transform="rotate(1.5 192.13 246.36)"><rect x="187.33" y="244.76" width="9.6" height="3.2" rx="1.6" fill="#8f8f8f"/><rect x="187.83" y="245.66" width="8.6" height="2" rx="1" fill="#c6c6c6"/></g>
<g transform="rotate(1.5 206.46 246.73)"><rect x="201.66" y="245.13" width="9.6" height="3.2" rx="1.6" fill="#8f8f8f"/><rect x="202.16" y="246.03" width="8.6" height="2" rx="1" fill="#c6c6c6"/></g>
<g transform="rotate(1.5 220.79 247.1)"><rect x="215.99" y="245.5" width="9.6" height="3.2" rx="1.6" fill="#8f8f8f"/><rect x="216.49" y="246.4" width="8.6" height="2" rx="1" fill="#c6c6c6"/></g>
<g transform="rotate(1.5 235.12 247.48)"><rect x="230.32" y="245.88" width="9.6" height="3.2" rx="1.6" fill="#8f8f8f"/><rect x="230.82" y="246.78" width="8.6" height="2" rx="1" fill="#c6c6c6"/></g>
<g transform="rotate(1.5 249.45 247.85)"><rect x="244.65" y="246.25" width="9.6" height="3.2" rx="1.6" fill="#8f8f8f"/><rect x="245.15" y="247.15" width="8.6" height="2" rx="1" fill="#c6c6c6"/></g>
<g transform="rotate(1.5 263.78 248.22)"><rect x="258.98" y="246.62" width="9.6" height="3.2" rx="1.6" fill="#8f8f8f"/><rect x="259.48" y="247.52" width="8.6" height="2" rx="1" fill="#c6c6c6"/></g>
<g transform="rotate(1.5 278.11 248.59)"><rect x="273.31" y="246.99" width="9.6" height="3.2" rx="1.6" fill="#8f8f8f"/><rect x="273.81" y="247.89" width="8.6" height="2" rx="1" fill="#c6c6c6"/></g>
<g transform="rotate(1.5 292.44 248.97)"><rect x="287.64" y="247.37" width="9.6" height="3.2" rx="1.6" fill="#8f8f8f"/><rect x="288.14" y="248.27" width="8.6" height="2" rx="1" fill="#c6c6c6"/></g>
<g transform="rotate(1.5 177.8 258.59)"><rect x="173" y="256.99" width="9.6" height="3.2" rx="1.6" fill="#8f8f8f"/><rect x="173.5" y="257.89" width="8.6" height="2" rx="1" fill="#c6c6c6"/></g>
<g transform="rotate(1.5 192.13 258.96)"><rect x="187.33" y="257.36" width="9.6" height="3.2" rx="1.6" fill="#8f8f8f"/><rect x="187.83" y="258.26" width="8.6" height="2" rx="1" fill="#c6c6c6"/></g>
<g transform="rotate(1.5 206.46 259.33)"><rect x="201.66" y="257.73" width="9.6" height="3.2" rx="1.6" fill="#8f8f8f"/><rect x="202.16" y="258.63" width="8.6" height="2" rx="1" fill="#c6c6c6"/></g>
<g transform="rotate(1.5 220.79 259.7)"><rect x="215.99" y="258.1" width="9.6" height="3.2" rx="1.6" fill="#8f8f8f"/><rect x="216.49" y="259" width="8.6" height="2" rx="1" fill="#c6c6c6"/></g>
<g transform="rotate(1.5 235.12 260.08)"><rect x="230.32" y="258.48" width="9.6" height="3.2" rx="1.6" fill="#8f8f8f"/><rect x="230.82" y="259.38" width="8.6" height="2" rx="1" fill="#c6c6c6"/></g>
<g transform="rotate(1.5 249.45 260.45)"><rect x="244.65" y="258.85" width="9.6" height="3.2" rx="1.6" fill="#8f8f8f"/><rect x="245.15" y="259.75" width="8.6" height="2" rx="1" fill="#c6c6c6"/></g>
<g transform="rotate(1.5 263.78 260.82)"><rect x="258.98" y="259.22" width="9.6" height="3.2" rx="1.6" fill="#8f8f8f"/><rect x="259.48" y="260.12" width="8.6" height="2" rx="1" fill="#c6c6c6"/></g>
<g transform="rotate(1.5 278.11 261.19)"><rect x="273.31" y="259.59" width="9.6" height="3.2" rx="1.6" fill="#8f8f8f"/><rect x="273.81" y="260.49" width="8.6" height="2" rx="1" fill="#c6c6c6"/></g>
<g transform="rotate(1.5 292.44 261.57)"><rect x="287.64" y="259.97" width="9.6" height="3.2" rx="1.6" fill="#8f8f8f"/><rect x="288.14" y="260.87" width="8.6" height="2" rx="1" fill="#c6c6c6"/></g>
<g transform="rotate(1.5 177.8 271.09)"><rect x="173" y="269.49" width="9.6" height="3.2" rx="1.6" fill="#8f8f8f"/><rect x="173.5" y="270.39" width="8.6" height="2" rx="1" fill="#c6c6c6"/></g>
<g transform="rotate(1.5 192.13 271.46)"><rect x="187.33" y="269.86" width="9.6" height="3.2" rx="1.6" fill="#8f8f8f"/><rect x="187.83" y="270.76" width="8.6" height="2" rx="1" fill="#c6c6c6"/></g>
<g transform="rotate(1.5 206.46 271.83)"><rect x="201.66" y="270.23" width="9.6" height="3.2" rx="1.6" fill="#8f8f8f"/><rect x="202.16" y="271.13" width="8.6" height="2" rx="1" fill="#c6c6c6"/></g>
<g transform="rotate(1.5 220.79 272.2)"><rect x="215.99" y="270.6" width="9.6" height="3.2" rx="1.6" fill="#8f8f8f"/><rect x="216.49" y="271.5" width="8.6" height="2" rx="1" fill="#c6c6c6"/></g>
<g transform="rotate(1.5 235.12 272.58)"><rect x="230.32" y="270.98" width="9.6" height="3.2" rx="1.6" fill="#8f8f8f"/><rect x="230.82" y="271.88" width="8.6" height="2" rx="1" fill="#c6c6c6"/></g>
<g transform="rotate(1.5 249.45 272.95)"><rect x="244.65" y="271.35" width="9.6" height="3.2" rx="1.6" fill="#8f8f8f"/><rect x="245.15" y="272.25" width="8.6" height="2" rx="1" fill="#c6c6c6"/></g>
<g transform="rotate(1.5 263.78 273.32)"><rect x="258.98" y="271.72" width="9.6" height="3.2" rx="1.6" fill="#8f8f8f"/><rect x="259.48" y="272.62" width="8.6" height="2" rx="1" fill="#c6c6c6"/></g>
<g transform="rotate(1.5 278.11 273.69)"><rect x="273.31" y="272.09" width="9.6" height="3.2" rx="1.6" fill="#8f8f8f"/><rect x="273.81" y="272.99" width="8.6" height="2" rx="1" fill="#c6c6c6"/></g>
<g transform="rotate(1.5 292.44 274.07)"><rect x="287.64" y="272.47" width="9.6" height="3.2" rx="1.6" fill="#8f8f8f"/><rect x="288.14" y="273.37" width="8.6" height="2" rx="1" fill="#c6c6c6"/></g>
<circle cx="197.5" cy="202.5" r="2.6" fill="none" stroke="#b0b0b0" stroke-width="0.6"/>
<circle cx="285" cy="206" r="2.6" fill="none" stroke="#b0b0b0" stroke-width="0.6"/>
<polygon points="152,182.92 295.5,186.65 295.5,192.65 152,188.92" fill="#d9d9db"/>
<polygon points="152,186.62 295.5,190.35 295.5,191.35 152,187.62" fill="#f8f8f8"/>
<polygon points="148,159 166,186 166,275.78 148,285.5" fill="#e3e3e4"/>
<line x1="166" y1="186" x2="166" y2="275.78" stroke="#b5b5b5" stroke-width="0.7"/>
<polygon points="161.5,221 164.3,220.5 164.3,258 161.5,260.5" fill="#f4f4f4" stroke="#7a7a7a" stroke-width="0.7" stroke-linejoin="round"/>
<polygon points="166,275.78 295.5,279.15 295.5,288.65 148,285.11" fill="#fbfbfb"/>
<line x1="166" y1="275.78" x2="295.5" y2="279.15" stroke="#b8b8b8" stroke-width="0.7"/>
<line x1="166" y1="275.78" x2="148" y2="285.5" stroke="#9a9a9a" stroke-width="0.8"/>
<polygon points="295.5,279.65 289,288.58 295.5,288.75" fill="#d5d5d5" stroke="#9a9a9a" stroke-width="0.5" stroke-linejoin="round"/>
</g>
<g transform="translate(-0.7,0)">
<polygon points="148,157.61 295.5,161.45 295.5,190.35 148,186.51" fill="#8ab7e9"/>
<polygon points="148,185.71 295.5,189.55 295.5,234.35 148,230.51" fill="#9bc2ee"/>
<polygon points="148,185.71 166,186.18 166,230.98 148,230.51" fill="#94bdeb"/>
<polygon points="148,184.91 295.5,188.75 295.5,189.75 148,185.91" fill="#7fafe4"/>
<polygon points="148,185.91 295.5,189.75 295.5,193.35 148,189.51" fill="#92bbeb"/>
<line x1="148" y1="189.61" x2="295.5" y2="193.45" stroke="#84b0e0" stroke-width="0.6"/>
<line x1="166" y1="189.18" x2="166" y2="230.78" stroke="#82aede" stroke-width="0.7"/>
<line x1="148.4" y1="214.6" x2="166" y2="204" stroke="#86b1e0" stroke-width="0.5"/>
<polygon points="161.2,222 164.6,220.4 164.6,231 161.2,231" fill="#98c0ed" stroke="#7aa4d4" stroke-width="0.6" stroke-linejoin="round"/>
<rect x="173.1" y="194.49" width="9.4" height="2.3" rx="1.15" fill="#8cb5e4" stroke="#7aa5d6" stroke-width="0.4" transform="rotate(1.5 177.8 195.79)"/>
<rect x="187.43" y="194.86" width="9.4" height="2.3" rx="1.15" fill="#8cb5e4" stroke="#7aa5d6" stroke-width="0.4" transform="rotate(1.5 192.13 196.16)"/>
<rect x="201.76" y="195.23" width="9.4" height="2.3" rx="1.15" fill="#8cb5e4" stroke="#7aa5d6" stroke-width="0.4" transform="rotate(1.5 206.46 196.53)"/>
<rect x="216.09" y="195.6" width="9.4" height="2.3" rx="1.15" fill="#8cb5e4" stroke="#7aa5d6" stroke-width="0.4" transform="rotate(1.5 220.79 196.9)"/>
<rect x="230.42" y="195.98" width="9.4" height="2.3" rx="1.15" fill="#8cb5e4" stroke="#7aa5d6" stroke-width="0.4" transform="rotate(1.5 235.12 197.28)"/>
<rect x="244.75" y="196.35" width="9.4" height="2.3" rx="1.15" fill="#8cb5e4" stroke="#7aa5d6" stroke-width="0.4" transform="rotate(1.5 249.45 197.65)"/>
<rect x="259.08" y="196.72" width="9.4" height="2.3" rx="1.15" fill="#8cb5e4" stroke="#7aa5d6" stroke-width="0.4" transform="rotate(1.5 263.78 198.02)"/>
<rect x="273.41" y="197.09" width="9.4" height="2.3" rx="1.15" fill="#8cb5e4" stroke="#7aa5d6" stroke-width="0.4" transform="rotate(1.5 278.11 198.39)"/>
<rect x="287.74" y="197.47" width="9.4" height="2.3" rx="1.15" fill="#8cb5e4" stroke="#7aa5d6" stroke-width="0.4" transform="rotate(1.5 292.44 198.77)"/>
<rect x="173.1" y="207.39" width="9.4" height="2.3" rx="1.15" fill="#8cb5e4" stroke="#7aa5d6" stroke-width="0.4" transform="rotate(1.5 177.8 208.69)"/>
<rect x="187.43" y="207.76" width="9.4" height="2.3" rx="1.15" fill="#8cb5e4" stroke="#7aa5d6" stroke-width="0.4" transform="rotate(1.5 192.13 209.06)"/>
<rect x="201.76" y="208.13" width="9.4" height="2.3" rx="1.15" fill="#8cb5e4" stroke="#7aa5d6" stroke-width="0.4" transform="rotate(1.5 206.46 209.43)"/>
<rect x="216.09" y="208.5" width="9.4" height="2.3" rx="1.15" fill="#8cb5e4" stroke="#7aa5d6" stroke-width="0.4" transform="rotate(1.5 220.79 209.8)"/>
<rect x="230.42" y="208.88" width="9.4" height="2.3" rx="1.15" fill="#8cb5e4" stroke="#7aa5d6" stroke-width="0.4" transform="rotate(1.5 235.12 210.18)"/>
<rect x="244.75" y="209.25" width="9.4" height="2.3" rx="1.15" fill="#8cb5e4" stroke="#7aa5d6" stroke-width="0.4" transform="rotate(1.5 249.45 210.55)"/>
<rect x="259.08" y="209.62" width="9.4" height="2.3" rx="1.15" fill="#8cb5e4" stroke="#7aa5d6" stroke-width="0.4" transform="rotate(1.5 263.78 210.92)"/>
<rect x="273.41" y="209.99" width="9.4" height="2.3" rx="1.15" fill="#8cb5e4" stroke="#7aa5d6" stroke-width="0.4" transform="rotate(1.5 278.11 211.29)"/>
<rect x="287.74" y="210.37" width="9.4" height="2.3" rx="1.15" fill="#8cb5e4" stroke="#7aa5d6" stroke-width="0.4" transform="rotate(1.5 292.44 211.67)"/>
<rect x="173.1" y="220.09" width="9.4" height="2.3" rx="1.15" fill="#8cb5e4" stroke="#7aa5d6" stroke-width="0.4" transform="rotate(1.5 177.8 221.39)"/>
<rect x="187.43" y="220.46" width="9.4" height="2.3" rx="1.15" fill="#8cb5e4" stroke="#7aa5d6" stroke-width="0.4" transform="rotate(1.5 192.13 221.76)"/>
<rect x="201.76" y="220.83" width="9.4" height="2.3" rx="1.15" fill="#8cb5e4" stroke="#7aa5d6" stroke-width="0.4" transform="rotate(1.5 206.46 222.13)"/>
<rect x="216.09" y="221.2" width="9.4" height="2.3" rx="1.15" fill="#8cb5e4" stroke="#7aa5d6" stroke-width="0.4" transform="rotate(1.5 220.79 222.5)"/>
<rect x="230.42" y="221.58" width="9.4" height="2.3" rx="1.15" fill="#8cb5e4" stroke="#7aa5d6" stroke-width="0.4" transform="rotate(1.5 235.12 222.88)"/>
<rect x="244.75" y="221.95" width="9.4" height="2.3" rx="1.15" fill="#8cb5e4" stroke="#7aa5d6" stroke-width="0.4" transform="rotate(1.5 249.45 223.25)"/>
<rect x="259.08" y="222.32" width="9.4" height="2.3" rx="1.15" fill="#8cb5e4" stroke="#7aa5d6" stroke-width="0.4" transform="rotate(1.5 263.78 223.62)"/>
<rect x="273.41" y="222.69" width="9.4" height="2.3" rx="1.15" fill="#8cb5e4" stroke="#7aa5d6" stroke-width="0.4" transform="rotate(1.5 278.11 223.99)"/>
<rect x="287.74" y="223.07" width="9.4" height="2.3" rx="1.15" fill="#8cb5e4" stroke="#7aa5d6" stroke-width="0.4" transform="rotate(1.5 292.44 224.37)"/>
<circle cx="197.5" cy="202.5" r="2.6" fill="none" stroke="#7fa9d9" stroke-width="0.6"/>
<circle cx="285.6" cy="204.2" r="2.6" fill="none" stroke="#7fa9d9" stroke-width="0.6"/>
<line x1="148" y1="157.61" x2="295.5" y2="161.45" stroke="#6f8fb0" stroke-width="0.7"/>
</g>
<g transform="translate(-1.1,0)">
<polygon points="146,229.86 296,233.76 296,238.56 146,234.66" fill="#929292"/>
<line x1="146" y1="230.46" x2="296" y2="234.36" stroke="#b4b4b4" stroke-width="1"/>
<line x1="146" y1="234.76" x2="296" y2="238.66" stroke="#666666" stroke-width="0.8"/>
<line x1="147" y1="236.09" x2="296" y2="239.96" stroke="#ffffff" stroke-width="1.2"/>
</g>
<polygon points="136,117.5 302.5,121.83 302.5,161 136,155.9" fill="#e6e6e7"/>
<line x1="152.6" y1="117.93" x2="152.6" y2="156.41" stroke="#838383" stroke-width="1"/>
<line x1="151.5" y1="118.93" x2="151.5" y2="155.61" stroke="#f0f0f0" stroke-width="0.7"/>
<line x1="153.8" y1="118.93" x2="153.8" y2="155.61" stroke="#fbfbfb" stroke-width="0.9"/>
<line x1="186" y1="118.8" x2="186" y2="157.44" stroke="#838383" stroke-width="1"/>
<line x1="184.9" y1="119.8" x2="184.9" y2="156.63" stroke="#f0f0f0" stroke-width="0.7"/>
<line x1="187.2" y1="119.8" x2="187.2" y2="156.63" stroke="#fbfbfb" stroke-width="0.9"/>
<line x1="219" y1="119.66" x2="219" y2="158.45" stroke="#838383" stroke-width="1"/>
<line x1="217.9" y1="120.66" x2="217.9" y2="157.65" stroke="#f0f0f0" stroke-width="0.7"/>
<line x1="220.2" y1="120.66" x2="220.2" y2="157.65" stroke="#fbfbfb" stroke-width="0.9"/>
<line x1="252" y1="120.52" x2="252" y2="159.46" stroke="#838383" stroke-width="1"/>
<line x1="250.9" y1="121.52" x2="250.9" y2="158.66" stroke="#f0f0f0" stroke-width="0.7"/>
<line x1="253.2" y1="121.52" x2="253.2" y2="158.66" stroke="#fbfbfb" stroke-width="0.9"/>
<line x1="285.5" y1="121.39" x2="285.5" y2="160.49" stroke="#838383" stroke-width="1"/>
<line x1="284.4" y1="122.39" x2="284.4" y2="159.69" stroke="#f0f0f0" stroke-width="0.7"/>
<line x1="286.7" y1="122.39" x2="286.7" y2="159.69" stroke="#fbfbfb" stroke-width="0.9"/>
<line x1="136" y1="117.5" x2="302.5" y2="121.83" stroke="#6e6e6e" stroke-width="0.9"/>
<line x1="138" y1="118.75" x2="300" y2="122.96" stroke="#ffffff" stroke-width="1"/>
<line x1="138" y1="154.7" x2="300" y2="159.6" stroke="#ffffff" stroke-width="1.3"/>
<line x1="138" y1="156" x2="300" y2="160.9" stroke="#8a8a8a" stroke-width="0.9"/>
<path d="M212 136.56 h14.4 a7.2 8.6 0 0 1 -14.4 0z" fill="#ffffff" stroke="#ffffff" stroke-width="1.6"/>
<path d="M212.4 136.66 h13.6 a6.8 8.2 0 0 1 -13.6 0z" fill="#3f6b78" stroke="#2b4750" stroke-width="0.5"/>
<path d="M213.7 137.96 h11 a5.5 4.8 0 0 1 -11 0z" fill="#7fb0bd"/>
<path d="M214.7 138.96 h9" fill="none" stroke="#2f5560" stroke-width="0.8" stroke-dasharray="2 1"/>
<path d="M214.7 140.76 q4.5 2.2 9 0" fill="none" stroke="#335a66" stroke-width="0.8"/>
<polygon points="136,155.8 146,156 146,382.6 136,382.4" fill="#ededee"/>
<polygon points="136,117.5 138.3,117.5 138,150 137.5,175 137.5,382.6 136,382.2" fill="#5e5e5e"/>
<line x1="138.8" y1="119" x2="138.8" y2="382" stroke="#ffffff" stroke-width="1.6"/>
<line x1="141.8" y1="157" x2="141.8" y2="382" stroke="#d2d2d2" stroke-width="0.8"/>
<line x1="144.2" y1="157" x2="144.2" y2="281" stroke="#ffffff" stroke-width="1.2"/>
<polygon points="145.7,157 147.9,157.2 147.9,280 145.7,280.4" fill="#666666"/>
<polygon points="136,381.6 146.6,382 146.6,383 136.4,382.8" fill="#6a6a6a"/>
<polygon points="294.8,161.15 301.3,161.33 301.4,386.4 297.6,385.9 297.4,290 297,242.5 295.2,242.5" fill="#a3a2a1"/>
<line x1="295.3" y1="161.66" x2="295.3" y2="242" stroke="#8d8d8d" stroke-width="0.8"/>
<polygon points="294.6,242.6 297,242.6 297.4,290 294.6,290" fill="#e4e4e4"/>
<polygon points="297,242.6 300,242.6 301,386 297.6,385.9" fill="#8a8a8a"/>
<line x1="297.2" y1="243" x2="297.6" y2="385" stroke="#6e6e6e" stroke-width="0.8"/>
<line x1="298.6" y1="121.5" x2="298.7" y2="242" stroke="#cfcfcf" stroke-width="0.9"/>
<polygon points="299.5,120.5 301.6,120.5 301.5,157 302.9,386.6 301.3,386.4 299.9,157" fill="#4a4a4a"/>
<polygon points="301.4,120.6 303.4,120.9 303.9,383.4 302.9,384.5" fill="#ffffff"/>
<rect x="295.2" y="224.6" width="3.4" height="13.6" fill="#0cd80c" stroke="#6e8f6e" stroke-width="0.5"/>
<rect x="295.3" y="222.8" width="3.2" height="1.8" fill="#e8e8e8"/>
<rect x="295.3" y="238.4" width="3.2" height="2.2" fill="#f2f2f2"/>
<g transform="translate(-1.6,0)">
<polygon points="138.9,292.6 146.6,279.8 149.6,279.8 152.4,284.3 297,288.49 302.6,297.32 138.9,292.9" fill="#fbfbfb"/>
<polygon points="291,294.03 296.6,288.2 299,288.4 302.6,297.52 291,297.03" fill="#f1f1f1" stroke="#9a9a9a" stroke-width="0.5" stroke-linejoin="round"/>
<line x1="152.2" y1="284.92" x2="297" y2="288.69" stroke="#4c4c4c" stroke-width="1.25"/>
<line x1="152.2" y1="290.22" x2="291" y2="293.83" stroke="#4c4c4c" stroke-width="1.2"/>
<line x1="139" y1="293.08" x2="302.6" y2="297.33" stroke="#6a6a6a" stroke-width="1"/>
<line x1="139" y1="292.4" x2="146.8" y2="279.8" stroke="#8a8a8a" stroke-width="0.7"/>
<line x1="149.4" y1="279.8" x2="152.2" y2="284.4" stroke="#8a8a8a" stroke-width="0.7"/>
<line x1="141.5" y1="290.6" x2="147.6" y2="286.2" stroke="#c4c4c4" stroke-width="0.6"/>
<line x1="147.6" y1="286.2" x2="152" y2="288" stroke="#c4c4c4" stroke-width="0.6"/>
</g>
<g transform="translate(-2,0)">
<polygon points="146,293 298.5,297 298.5,384.2 146,379.8" fill="#e9e9ea"/>
<line x1="147.8" y1="294" x2="148.3" y2="382" stroke="#4a4a4a" stroke-width="1.5"/>
<line x1="146.3" y1="295" x2="146.6" y2="381" stroke="#ffffff" stroke-width="1"/>
<polygon points="151,294.99 175.2,295.62 175.2,305.82 151,305.19" fill="#f1f1f1" stroke="#444444" stroke-width="0.9"/>
<circle cx="156.6" cy="300.74" r="3.2" fill="#2f5a44" stroke="#24382e" stroke-width="0.6"/>
<circle cx="156.6" cy="300.94" r="1.7" fill="#2b55e2"/>
<circle cx="156.9" cy="300.24" r="0.9" fill="#3fae6a"/>
<circle cx="167.8" cy="301.03" r="3.2" fill="#2f5a44" stroke="#24382e" stroke-width="0.6"/>
<circle cx="167.8" cy="301.23" r="1.7" fill="#2b55e2"/>
<circle cx="168.1" cy="300.53" r="0.9" fill="#3fae6a"/>
<polygon points="176.4,295.85 210,296.72 210,306.72 176.4,305.85" fill="#ececec" stroke="#b0b0b0" stroke-width="0.6"/>
<polygon points="211.4,296.26 236,296.9 236,307.6 211.4,306.96" fill="#e9e9e9" stroke="#4a4a4a" stroke-width="0.9"/>
<polygon points="215.8,298.27 222.4,298.45 222.4,306.05 215.8,305.87" fill="#559a9a" stroke="#2d5c5c" stroke-width="0.6"/>
<polygon points="216.9,299.5 221.3,299.62 221.3,304.82 216.9,304.7" fill="#9fd4d4"/>
<polygon points="218.1,300.93 220.1,300.99 220.1,303.39 218.1,303.33" fill="#4a8c8c"/>
<polygon points="224,298.49 230.6,298.66 230.6,306.26 224,306.09" fill="#559a9a" stroke="#2d5c5c" stroke-width="0.6"/>
<polygon points="225.1,299.72 229.5,299.83 229.5,305.03 225.1,304.92" fill="#9fd4d4"/>
<polygon points="226.3,301.15 228.3,301.2 228.3,303.6 226.3,303.55" fill="#4a8c8c"/>
<polygon points="237.3,298.23 270.6,299.1 270.6,308.7 237.3,307.83" fill="#ebebeb" stroke="#b8b8b8" stroke-width="0.6"/>
<polygon points="271.6,299.13 296,299.76 296,309.56 271.6,308.93" fill="#5b6468" stroke="#3a3a3a" stroke-width="0.6"/>
<polygon points="272.6,299.75 278.6,299.91 278.6,307.91 272.6,307.75" fill="#559a9a" stroke="#2d5c5c" stroke-width="0.6"/>
<polygon points="273.7,300.98 277.5,301.08 277.5,306.68 273.7,306.58" fill="#9fd4d4"/>
<polygon points="274.9,302.41 276.3,302.45 276.3,305.25 274.9,305.21" fill="#4a8c8c"/>
<polygon points="279.8,299.94 286.2,300.11 286.2,308.11 279.8,307.94" fill="#559a9a" stroke="#2d5c5c" stroke-width="0.6"/>
<polygon points="280.9,301.17 285.1,301.28 285.1,306.88 280.9,306.77" fill="#9fd4d4"/>
<polygon points="282.1,302.6 283.9,302.65 283.9,305.45 282.1,305.4" fill="#4a8c8c"/>
<polygon points="288,299.95 295.4,300.14 295.4,308.14 288,307.95" fill="#559a9a" stroke="#2d5c5c" stroke-width="0.6"/>
<polygon points="289.1,301.18 294.3,301.32 294.3,306.92 289.1,306.78" fill="#b4e0e0"/>
<line x1="149" y1="305.94" x2="298" y2="309.81" stroke="#8a8a8a" stroke-width="0.8"/>
<polygon points="151,306.69 221,308.51 221,365.01 151,363.19" fill="#e6e6e7" stroke="#8e8e8e" stroke-width="0.8"/>
<line x1="186" y1="307.6" x2="186" y2="364.1" stroke="#8e8e8e" stroke-width="0.9"/>
<line x1="152.3" y1="307.99" x2="152.3" y2="361.39" stroke="#f6f6f6" stroke-width="0.8"/>
<line x1="152.4" y1="307.83" x2="185" y2="308.67" stroke="#f6f6f6" stroke-width="0.8"/>
<line x1="187.3" y1="308.9" x2="187.3" y2="362.3" stroke="#f6f6f6" stroke-width="0.8"/>
<line x1="187.4" y1="308.74" x2="220" y2="309.58" stroke="#f6f6f6" stroke-width="0.8"/>
<rect x="180.4" y="330.55" width="3.5" height="12" rx="0.8" fill="#fbfbfb" stroke="#6e6e6e" stroke-width="0.7"/>
<rect x="188.2" y="330.76" width="3.5" height="12" rx="0.8" fill="#c9c9c9" stroke="#6e6e6e" stroke-width="0.7"/>
<polygon points="227,308.67 296,310.46 296,366.96 227,365.17" fill="#e6e6e7" stroke="#8e8e8e" stroke-width="0.8"/>
<line x1="261.6" y1="309.57" x2="261.6" y2="366.07" stroke="#8e8e8e" stroke-width="0.9"/>
<line x1="228.3" y1="309.97" x2="228.3" y2="363.37" stroke="#f6f6f6" stroke-width="0.8"/>
<line x1="228.4" y1="309.8" x2="260.6" y2="310.64" stroke="#f6f6f6" stroke-width="0.8"/>
<line x1="262.9" y1="310.87" x2="262.9" y2="364.27" stroke="#f6f6f6" stroke-width="0.8"/>
<line x1="263" y1="310.7" x2="295" y2="311.53" stroke="#f6f6f6" stroke-width="0.8"/>
<rect x="256" y="332.52" width="3.5" height="12" rx="0.8" fill="#fbfbfb" stroke="#6e6e6e" stroke-width="0.7"/>
<rect x="263.8" y="332.72" width="3.5" height="12" rx="0.8" fill="#c9c9c9" stroke="#6e6e6e" stroke-width="0.7"/>
<line x1="150.2" y1="311.97" x2="150.2" y2="318.57" stroke="#5e5e5e" stroke-width="1.4" stroke-dasharray="1.4 0.7"/>
<line x1="150.2" y1="350.97" x2="150.2" y2="357.57" stroke="#5e5e5e" stroke-width="1.4" stroke-dasharray="1.4 0.7"/>
<line x1="221.6" y1="313.83" x2="221.6" y2="320.43" stroke="#5e5e5e" stroke-width="1.4" stroke-dasharray="1.4 0.7"/>
<line x1="221.6" y1="352.83" x2="221.6" y2="359.43" stroke="#5e5e5e" stroke-width="1.4" stroke-dasharray="1.4 0.7"/>
<line x1="226.4" y1="313.95" x2="226.4" y2="320.55" stroke="#5e5e5e" stroke-width="1.4" stroke-dasharray="1.4 0.7"/>
<line x1="226.4" y1="352.95" x2="226.4" y2="359.55" stroke="#5e5e5e" stroke-width="1.4" stroke-dasharray="1.4 0.7"/>
<line x1="296.6" y1="315.78" x2="296.6" y2="322.38" stroke="#5e5e5e" stroke-width="1.4" stroke-dasharray="1.4 0.7"/>
<line x1="296.6" y1="354.78" x2="296.6" y2="361.38" stroke="#5e5e5e" stroke-width="1.4" stroke-dasharray="1.4 0.7"/>
<line x1="149" y1="379.8" x2="298.5" y2="384.1" stroke="#8f8f8f" stroke-width="0.9"/>
<line x1="149.5" y1="364.65" x2="298" y2="368.51" stroke="#ffffff" stroke-width="1"/>
</g>
</g>
<g>
<path d="M217 82.6 H202 M208 78.5 L201.6 82.6 L208 86.7" fill="none" stroke="#1a70c8" stroke-width="1.1"/>
<circle cx="189" cy="82.8" r="8.2" fill="#ffffff" fill-opacity="0.8"/><circle cx="189" cy="82.8" r="7.5" fill="#0e65c1"/><text x="189" y="87.38" font-size="12.8" text-anchor="middle">3</text>
<path d="M292 118.6 V82.4 M287.9 88.4 L292 82 L296.1 88.4" fill="none" stroke="#1a70c8" stroke-width="1.1"/>
<circle cx="291.9" cy="71.8" r="8.2" fill="#ffffff" fill-opacity="0.8"/><circle cx="291.9" cy="71.8" r="7.5" fill="#0e65c1"/><text x="291.9" y="75.74" font-size="11" text-anchor="middle" textLength="10.8" lengthAdjust="spacingAndGlyphs">10</text>
<path d="M354 118.2 V102.8 M349.9 108.8 L354 102.4 L358.1 108.8" fill="none" stroke="#1a70c8" stroke-width="1.1"/>
<circle cx="353.9" cy="92.4" r="8.2" fill="#ffffff" fill-opacity="0.8"/><circle cx="353.9" cy="92.4" r="7.5" fill="#0e65c1"/><text x="353.9" y="96.98" font-size="12.8" text-anchor="middle">1</text>
<path d="M444.4 120.6 V105.9 M440.3 111.9 L444.4 105.5 L448.5 111.9" fill="none" stroke="#1a70c8" stroke-width="1.1"/>
<circle cx="444.3" cy="95.6" r="8.2" fill="#ffffff" fill-opacity="0.8"/><circle cx="444.3" cy="95.6" r="7.5" fill="#0e65c1"/><text x="444.3" y="100.18" font-size="12.8" text-anchor="middle">2</text>
<path d="M467 125.4 V89.9 M462.9 95.9 L467 89.5 L471.1 95.9" fill="none" stroke="#1a70c8" stroke-width="1.1"/>
<circle cx="467.1" cy="78.3" r="8.2" fill="#ffffff" fill-opacity="0.8"/><circle cx="467.1" cy="78.3" r="7.5" fill="#0e65c1"/><text x="467.1" y="82.88" font-size="12.8" text-anchor="middle">7</text>
<path d="M389.5 144.6 H374.2 M380.2 140.5 L373.8 144.6 L380.2 148.7" fill="none" stroke="#1a70c8" stroke-width="1.1"/>
<circle cx="361" cy="144.3" r="8.2" fill="#ffffff" fill-opacity="0.8"/><circle cx="361" cy="144.3" r="7.5" fill="#0e65c1"/><text x="361" y="148.88" font-size="12.8" text-anchor="middle">6</text>
<path d="M375 208.6 H359.2 M365.2 204.5 L358.8 208.6 L365.2 212.7" fill="none" stroke="#1a70c8" stroke-width="1.1"/>
<circle cx="346.9" cy="208.7" r="8.2" fill="#ffffff" fill-opacity="0.8"/><circle cx="346.9" cy="208.7" r="7.5" fill="#0e65c1"/><text x="346.9" y="213.28" font-size="12.8" text-anchor="middle">5</text>
<path d="M156.5 228.2 H140.4 M146.4 224.1 L140 228.2 L146.4 232.3" fill="none" stroke="#1a70c8" stroke-width="1.1"/>
<circle cx="128.9" cy="227.7" r="8.2" fill="#ffffff" fill-opacity="0.8"/><circle cx="128.9" cy="227.7" r="7.5" fill="#0e65c1"/><text x="128.9" y="232.28" font-size="12.8" text-anchor="middle">4</text>
<path d="M292.3 231.6 H276.7 M282.7 227.5 L276.3 231.6 L282.7 235.7" fill="none" stroke="#1a70c8" stroke-width="1.1"/>
<circle cx="266.9" cy="227.8" r="8.2" fill="#ffffff" fill-opacity="0.8"/><circle cx="266.9" cy="227.8" r="7.5" fill="#0e65c1"/><text x="266.9" y="232.38" font-size="12.8" text-anchor="middle">9</text>
<path d="M474.5 235.5 H459.2 M465.2 231.4 L458.8 235.5 L465.2 239.6" fill="none" stroke="#1a70c8" stroke-width="1.1"/>
<circle cx="446.8" cy="235.7" r="8.2" fill="#ffffff" fill-opacity="0.8"/><circle cx="446.8" cy="235.7" r="7.5" fill="#0e65c1"/><text x="446.8" y="240.28" font-size="12.8" text-anchor="middle">8</text>
</g>
</svg>
</body></html>
